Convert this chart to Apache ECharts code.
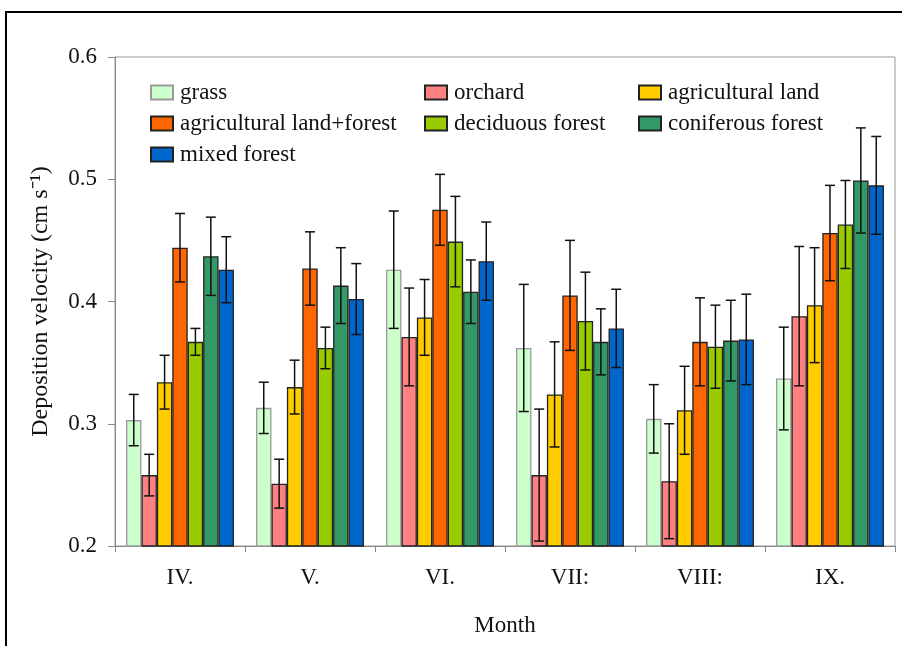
<!DOCTYPE html>
<html>
<head>
<meta charset="utf-8">
<script src="https://cdn.jsdelivr.net/npm/echarts@6/dist/echarts.min.js"></script>
<style>html,body{margin:0;padding:0;background:#fff;}#c{width:902px;height:646px;}</style>
</head>
<body>
<div id="c"></div>
<script>
const months = ['IV.', 'V.', 'VI.', 'VII:', 'VIII:', 'IX.'];
const seriesNames = ['grass', 'orchard', 'agricultural land', 'agricultural land+forest', 'deciduous forest', 'coniferous forest', 'mixed forest'];
const grass = [0.303, 0.313, 0.426, 0.362, 0.304, 0.337];
const grassErr = [0.021, 0.021, 0.048, 0.052, 0.028, 0.042];
const orchard = [0.258, 0.251, 0.371, 0.258, 0.253, 0.388];
const orchardErr = [0.017, 0.020, 0.040, 0.054, 0.047, 0.057];
const agri = [0.334, 0.330, 0.387, 0.324, 0.311, 0.397];
const agriErr = [0.022, 0.022, 0.031, 0.043, 0.036, 0.047];
const agriForest = [0.444, 0.427, 0.475, 0.405, 0.367, 0.456];
const agriForestErr = [0.028, 0.030, 0.029, 0.045, 0.036, 0.039];
const deciduous = [0.367, 0.362, 0.449, 0.384, 0.363, 0.463];
const deciduousErr = [0.011, 0.017, 0.037, 0.040, 0.034, 0.036];
const coniferous = [0.437, 0.413, 0.408, 0.367, 0.368, 0.499];
const coniferousErr = [0.032, 0.031, 0.026, 0.027, 0.033, 0.043];
const mixed = [0.426, 0.402, 0.433, 0.378, 0.369, 0.495];
const mixedErr = [0.027, 0.029, 0.032, 0.032, 0.037, 0.040];

const values = [grass, orchard, agri, agriForest, deciduous, coniferous, mixed];
const errors = [grassErr, orchardErr, agriErr, agriForestErr, deciduousErr, coniferousErr, mixedErr];
const colors = ['#ccffcc', '#ff8080', '#ffcc00', '#ff6600', '#99cc00', '#339966', '#0066cc'];
const borders = ['#9a9a9a', '#222', '#222', '#222', '#222', '#222', '#222'];

const FONT = 'Liberation Serif';
const GAP = 0.17;
const N = seriesNames.length;

const series = [];
seriesNames.forEach((name, si) => {
  series.push({
    name: name,
    type: 'bar',
    data: values[si],
    barGap: '0%',
    barCategoryGap: (GAP * 100) + '%',
    itemStyle: { color: colors[si], borderColor: borders[si], borderWidth: 1.3 },
    emphasis: { disabled: true },
    animation: false
  });
});
seriesNames.forEach((name, si) => {
  series.push({
    name: name + ' err',
    type: 'custom',
    z: 5,
    animation: false,
    data: values[si].map((v, i) => [i, v, errors[si][i]]),
    encode: { x: 0, y: 1 },
    renderItem: function (params, api) {
      const cat = api.value(0), v = api.value(1), e = api.value(2);
      const c = api.coord([cat, v]);
      const hi = api.coord([cat, v + e]);
      const lo = api.coord([cat, v - e]);
      const band = api.size([1, 0])[0];
      const groupW = band * (1 - GAP);
      const barW = groupW / N;
      const x = c[0] - groupW / 2 + barW * (si + 0.5);
      const cap = 5;
      const st = { stroke: '#111', lineWidth: 1.5 };
      return {
        type: 'group',
        children: [
          { type: 'line', shape: { x1: x, y1: hi[1], x2: x, y2: lo[1] }, style: st },
          { type: 'line', shape: { x1: x - cap, y1: hi[1], x2: x + cap, y2: hi[1] }, style: st },
          { type: 'line', shape: { x1: x - cap, y1: lo[1], x2: x + cap, y2: lo[1] }, style: st }
        ]
      };
    }
  });
});

const legendCommon = {
  orient: 'vertical',
  top: 81,
  padding: 0,
  itemWidth: 22,
  itemHeight: 14,
  itemGap: 8,
  icon: 'rect',
  selectedMode: false,
  textStyle: { fontFamily: FONT, fontSize: 23, lineHeight: 23, color: '#111', padding: [0, 0, 0, 2] }
};

const chart = echarts.init(document.getElementById('c'), null, { renderer: 'canvas' });
chart.setOption({
  backgroundColor: '#fff',
  animation: false,
  graphic: [{
    type: 'rect',
    shape: { x: 6, y: 12, width: 1200, height: 1200 },
    style: { fill: 'none', stroke: '#000', lineWidth: 2 },
    silent: true
  }],
  legend: [
    Object.assign({}, legendCommon, { left: 150, data: [seriesNames[0], seriesNames[3], seriesNames[6]] }),
    Object.assign({}, legendCommon, { left: 424, data: [seriesNames[1], seriesNames[4]] }),
    Object.assign({}, legendCommon, { left: 638, data: [seriesNames[2], seriesNames[5]] })
  ],
  grid: { left: 115, top: 57, right: 7, bottom: 100, show: true, borderColor: '#999', borderWidth: 1, backgroundColor: 'transparent' },
  xAxis: {
    type: 'category',
    data: months,
    name: 'Month',
    nameLocation: 'middle',
    nameGap: 68,
    nameTextStyle: { fontFamily: FONT, fontSize: 23, color: '#111' },
    axisLine: { lineStyle: { color: '#888' } },
    axisTick: { show: true, length: 6, lineStyle: { color: '#888' } },
    axisLabel: { fontFamily: FONT, fontSize: 23, color: '#111', margin: 20 }
  },
  yAxis: {
    type: 'value',
    min: 0.2,
    max: 0.6,
    interval: 0.1,
    name: 'Deposition velocity (cm s⁻¹)',
    nameLocation: 'middle',
    nameGap: 62,
    nameTextStyle: { fontFamily: FONT, fontSize: 24, color: '#111' },
    splitLine: { show: false },
    axisLine: { show: true, lineStyle: { color: '#888' } },
    axisTick: { show: true, length: 7, lineStyle: { color: '#888' } },
    axisLabel: { fontFamily: FONT, fontSize: 23, color: '#111', margin: 18, formatter: v => v.toFixed(1) }
  },
  series: series
});
</script>
</body>
</html>
